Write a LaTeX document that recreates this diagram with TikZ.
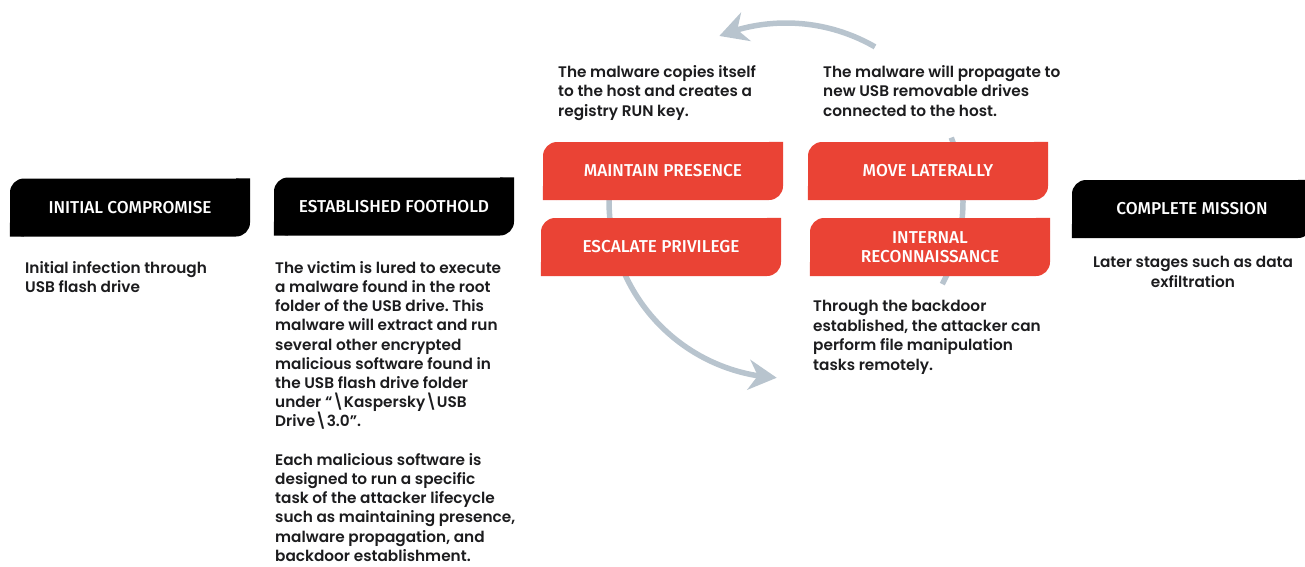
\documentclass[tikz,border=0pt]{standalone}
\usepackage{fontspec}
\usepackage{xcolor}
\usetikzlibrary{arrows.meta,bending}

\newfontfamily\bodyfont{Poppins SemiBold}
\newfontfamily\labelfont{Fira Sans Medium}
\frenchspacing

\definecolor{stagered}{RGB}{234,67,53}
\definecolor{cyclegray}{RGB}{184,196,206}
\definecolor{bodyink}{RGB}{28,28,30}

\tikzset{
  stage/.style={rounded corners=14pt, minimum width=240pt, minimum height=58pt, inner sep=0pt,
    text=white, align=center, font=\labelfont\fontsize{17.2}{19}\selectfont},
  note/.style={inner sep=0pt, align=left, text=bodyink, font=\bodyfont\fontsize{15.3}{19.5}\selectfont},
  cyclearc/.style={draw=cyclegray, line width=5.5pt, -{Stealth[length=28pt,width=30pt,inset=9pt]}}
}

\begin{document}
\begin{tikzpicture}[x=1pt,y=-1pt]
		\useasboundingbox (0,0) rectangle (1305,566);
		\coordinate (hub) at (786,201);
		
		%Curve Lines: cycle behind the four red stages
		\draw [cyclearc, shift={(hub)}] (-60:178) arc [start angle=-60, end angle=-112, radius=178];
		\draw [cyclearc, shift={(hub)}] (190:177) arc [start angle=190, end angle=93, radius=177];
		\draw [cyclearc, -, shift={(hub)}] (-21:177) arc [start angle=-21, end angle=28, radius=177];
		
		%Shape: black stages
		\node [stage, fill=black] (ic) at (130,207.5) {INITIAL COMPROMISE};
		\fill [black] (ic.north east) rectangle ++(-14,14) (ic.south west) rectangle ++(14,-14);
		\node [stage, fill=black] (ef) at (394,206.5) {ESTABLISHED FOOTHOLD};
		\fill [black] (ef.north east) rectangle ++(-14,14) (ef.south west) rectangle ++(14,-14);
		\node [stage, fill=black] (cm) at (1192,209) {COMPLETE MISSION};
		\fill [black] (cm.north east) rectangle ++(-14,14) (cm.south west) rectangle ++(14,-14);
		
		%Shape: red stages
		\node [stage, fill=stagered] (mp) at (663,171) {MAINTAIN PRESENCE};
		\fill [stagered] (mp.north east) rectangle ++(-14,14) (mp.south west) rectangle ++(14,-14);
		\node [stage, fill=stagered] (ep) at (661,247) {ESCALATE PRIVILEGE};
		\fill [stagered] (ep.north east) rectangle ++(-14,14) (ep.south west) rectangle ++(14,-14);
		\node [stage, fill=stagered] (ml) at (928,171) {MOVE LATERALLY};
		\fill [stagered] (ml.north east) rectangle ++(-14,14) (ml.south west) rectangle ++(14,-14);
		\node [stage, fill=stagered] (ir) at (930,247) {INTERNAL\\RECONNAISSANCE};
		\fill [stagered] (ir.north east) rectangle ++(-14,14) (ir.south west) rectangle ++(14,-14);
		
		% Text Node
		\node [note, anchor=north west] (icnote) at (25,261) {Initial infection through\\USB flash drive};
		% Text Node
		\node [note, anchor=north west, font=\bodyfont\fontsize{15.3}{19.2}\selectfont] (efnote) at (275,261) {The victim is lured to execute\\a malware found in the root\\folder of the USB drive. This\\malware will extract and run\\several other encrypted\\malicious software found in\\the USB flash drive folder\\under “\textbackslash Kaspersky\textbackslash USB\\Drive\textbackslash 3.0”.\\[19.2pt]Each malicious software is\\designed to run a specific\\task of the attacker lifecycle\\such as maintaining presence,\\malware propagation, and\\backdoor establishment.};
		% Text Node
		\node [note, anchor=north west] (mpnote) at (558,65) {The malware copies itself\\to the host and creates a\\registry RUN key.};
		% Text Node
		\node [note, anchor=north west] (mlnote) at (823,65) {The malware will propagate to\\new USB removable drives\\connected to the host.};
		% Text Node
		\node [note, anchor=north west] (irnote) at (813,300) {Through the backdoor\\established, the attacker can\\perform file manipulation\\tasks remotely.};
		% Text Node
		\node [note, align=center, anchor=north] (cmnote) at (1193,256) {Later stages such as data\\exfiltration};
\end{tikzpicture}
\end{document}
